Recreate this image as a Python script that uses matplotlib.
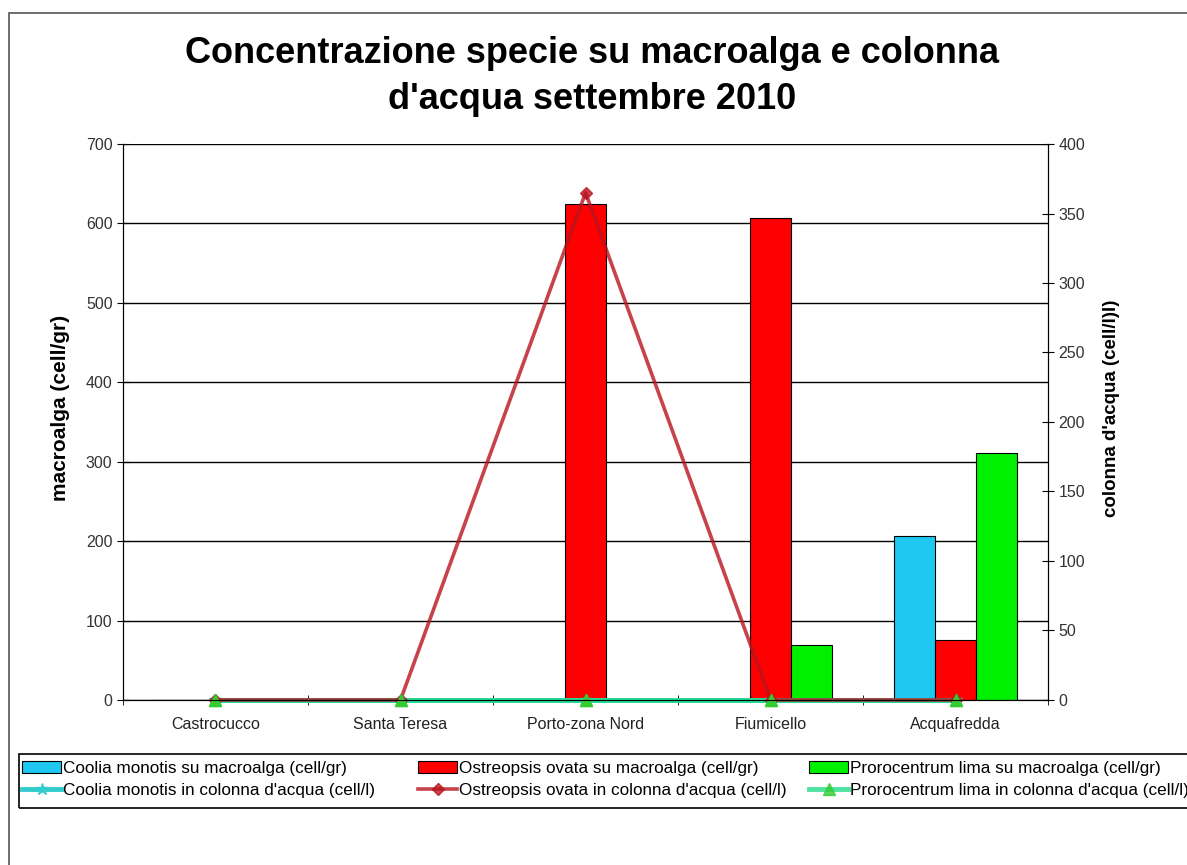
import matplotlib.pyplot as plt
import matplotlib.patches as patches
import numpy as np

plt.rcParams['font.family'] = ['Liberation Sans', 'DejaVu Sans']

# dati
stazioni = ["Castrocucco", "Santa Teresa", "Porto-zona Nord", "Fiumicello", "Acquafredda"]
coolia_macro = [0, 0, 0, 0, 206]
ostreopsis_macro = [0, 0, 625, 607, 76]
prorocentrum_macro = [0, 0, 0, 69, 311]
coolia_acqua = [0, 0, 0, 0, 0]
ostreopsis_acqua = [0, 0, 365, 0, 0]
prorocentrum_acqua = [0, 0, 0, 0, 0]

fig = plt.figure(figsize=(11.87, 8.65), dpi=100)
ax = fig.add_axes([0.1036, 0.1908, 0.7794, 0.6427])
ax2 = ax.twinx()

x = np.arange(len(stazioni))
w = 1 / 4.5
b1 = ax.bar(x - w, coolia_macro, w, color="#1EC8F0", edgecolor="black", linewidth=0.8,
            label="Coolia monotis su macroalga (cell/gr)")
b2 = ax.bar(x, ostreopsis_macro, w, color="#FF0000", edgecolor="black", linewidth=0.8,
            label="Ostreopsis ovata su macroalga (cell/gr)")
b3 = ax.bar(x + w, prorocentrum_macro, w, color="#00F000", edgecolor="black", linewidth=0.8,
            label="Prorocentrum lima su macroalga (cell/gr)")

l1, = ax2.plot(x, coolia_acqua, color="#33CCCC", lw=3.5, marker="*", ms=9,
               clip_on=False, label="Coolia monotis in colonna d'acqua (cell/l)")
l3, = ax2.plot(x, prorocentrum_acqua, color="#22DD88", lw=3.5, marker="^", ms=9,
               mec="#33CC33", mfc="#33CC33", alpha=0.8, clip_on=False,
               label="Prorocentrum lima in colonna d'acqua (cell/l)")
l2, = ax2.plot(x, ostreopsis_acqua, color="#B8141E", lw=2.6, marker="D", ms=6,
               alpha=0.8, clip_on=False,
               label="Ostreopsis ovata in colonna d'acqua (cell/l)")
ax2.plot(x, prorocentrum_acqua, ls="none", marker="^", ms=9, color="#33CC33", clip_on=False)

ax.set_xlim(-0.5, 4.5)
ax.set_ylim(0, 700)
ax.set_yticks(range(0, 701, 100))
ax2.set_ylim(0, 400)
ax2.set_yticks(range(0, 401, 50))
ax.grid(axis="y", color="black", lw=1)
ax.set_axisbelow(True)

ax.set_xticks(x)
ax.set_xticklabels(stazioni)
ax.set_xticks(np.arange(-0.5, 4.6, 1), minor=True)
ax.tick_params(axis="x", which="major", length=0, pad=12, labelsize=11.5, labelcolor="#222222")
ax.tick_params(axis="x", which="minor", direction="inout", length=7)
ax.tick_params(axis="y", direction="inout", length=8, labelsize=11.5, labelcolor="#333333")
ax2.tick_params(axis="y", direction="inout", length=8, labelsize=11.5, labelcolor="#333333")

for a in (ax, ax2):
    a.spines["top"].set_visible(False)
ax.set_ylabel("macroalga (cell/gr)", fontsize=15, fontweight="bold")
ax2.set_ylabel("colonna d'acqua (cell/l)l)", fontsize=13.5, fontweight="bold")
ax.yaxis.set_label_coords(-0.057, 0.525)
ax2.yaxis.set_label_coords(1.059, 0.525)

fig.suptitle("Concentrazione specie su macroalga e colonna\nd'acqua settembre 2010",
             fontsize=26, fontweight="bold", x=0.499, y=0.958, linespacing=1.4)

# legenda: tre colonne di larghezza uguale come in Excel
gruppi = [(b1, l1), (b2, l2), (b3, l3)]
col_x = [22, 418, 809]
for (hb, hl), cx in zip(gruppi, col_x):
    fig.legend([hb, hl], [hb.get_label(), hl.get_label()],
               loc="upper left", bbox_to_anchor=(cx / 1187, 1 - 761 / 865),
               fontsize=12.3, frameon=False, handlelength=2.3, handletextpad=0.1,
               borderpad=0, labelspacing=0.42, borderaxespad=0)
fig.patches.append(patches.Rectangle((19 / 1187, 1 - 808 / 865), 1.0, 54 / 865,
                                     transform=fig.transFigure, fill=False,
                                     edgecolor="black", lw=1.2))

fig.patches.append(patches.Rectangle((0.008, -0.05), 1.2, 1.035, transform=fig.transFigure,
                                     fill=False, edgecolor="#555555", lw=1.2))

fig.savefig("out.png", dpi=100)
